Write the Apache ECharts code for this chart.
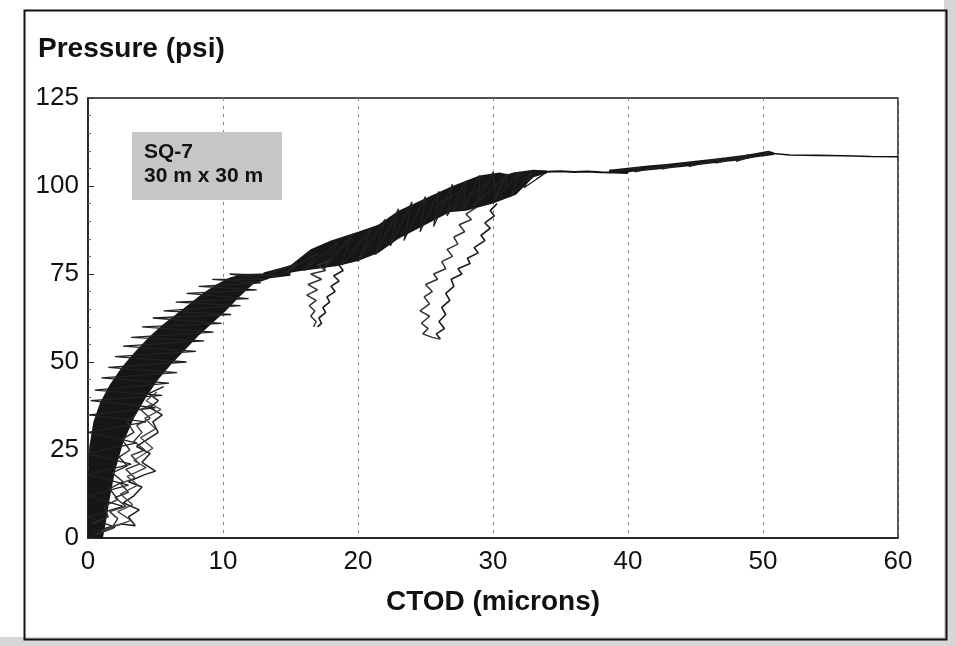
<!DOCTYPE html>
<html>
<head>
<meta charset="utf-8">
<script src="https://cdn.jsdelivr.net/npm/echarts@6/dist/echarts.min.js"></script>
<style>
html,body{margin:0;padding:0;background:#fff;}
#chart{width:956px;height:646px;}
</style>
</head>
<body>
<div id="chart"></div>
<script>
// ---- data (CTOD in microns, pressure in psi) ----
const xTickValues = [0, 10, 20, 30, 40, 50, 60];
const yTickValues = [0, 25, 50, 75, 100, 125];
const boxLines = ['SQ-7', '30 m x 30 m'];

// dense loading band 0-15 microns (outline: upper edge then lower edge back)
const mainBandUpper = [[0,0],[0,15],[0.1,26],[0.4,33],[0.9,38.5],[1.6,43.5],[2.5,48.5],[3.5,53],[4.5,57],[5.5,60.5],[6.5,63.5],[7.5,66.5],[8.5,69.5],[9.5,72],[10.5,74],[11.5,75],[13.5,75.2],[15,76]];
const mainBandLower = [[15,74.5],[13.5,73.8],[12.2,72],[11.2,68.5],[10.2,64.5],[9.2,61],[8.2,57.5],[7.2,53.5],[6.2,49.5],[5.2,45],[4.3,40],[3.4,34],[2.6,27],[2.0,19],[1.6,11],[1.3,4],[1.1,0]];
// band 13-31 microns
const band2Upper = [[13,75.4],[15,77.5],[16.5,82],[18,84.5],[20,87],[21.5,89],[23,93],[25,96.5],[27,100],[29,103],[30.5,103.8],[31.2,103.2]];
const band2Lower = [[31.2,100.5],[30,98],[29.2,96.5],[27,93],[25,89],[23,85],[21.5,81],[20,78.7],[18.5,77.3],[17,76.5],[15.5,75.7],[13,74]];
// second band 26-34 microns
const band3Upper = [[26,96],[28,99.5],[30,102],[31.5,103.8],[33,104.6],[34,104.4]];
const band3Lower = [[34,103.6],[33,102.5],[31.7,97.5],[30,95],[28,93],[26.5,92.5]];
// band 38.6-51 microns
const band4Upper = [[38.6,104.6],[41.5,105.8],[43,106.3],[45,107.2],[47,108],[49,109],[50.4,110],[50.8,109.6]];
const band4Lower = [[50.8,108.8],[49.5,108.2],[48,107.2],[46,106.3],[44,105.4],[42,104.6],[40,103.9],[38.6,103.6]];

// jagged traces (cyclic signal)
const mainTrace = [[0,0],[2.0,3],[0,6],[2.6,9],[0,12],[3.0,15],[0,18],[3.2,21],[0,24],[3.6,27],[0,30],[4.3,33],[0.1,35],[5.0,37],[0.2,39],[5.5,40.5],[0.5,42],[6.0,44],[1.0,45.5],[6.6,47],[1.5,48.5],[7.3,50],[2.0,51.5],[8.0,53],[2.6,54.5],[8.6,56],[3.2,57],[9.3,58.5],[4.0,60],[9.9,61],[4.8,62.5],[10.6,63.5],[5.6,64.5],[11.3,66],[6.5,67],[11.9,68],[7.3,69.5],[12.5,70.5],[8.2,71.5],[12.8,72.5],[9.2,73.5],[13.2,73.5],[10.5,75],[14,74.5]];
const band2Trace = [[13,74.5],[15.5,78],[14.5,75],[17,81],[16,76],[18.5,84],[17.5,76.5],[19.5,86],[18.8,77.5],[21,88],[20,78.5],[22,90.5],[21.3,80.5],[23,93.5],[22.4,83],[24,95.5],[23.4,84.5],[25,97],[24.6,87],[26,98.5],[25.6,88.5],[27,100.5],[26.6,91.5],[28,101.5],[27.8,93],[29,103],[29,95.5],[30,104],[30.2,97.5],[31,103.5],[31,100]];
const band3Trace = [[26,95],[28,99.5],[27,93],[29.5,101],[28.5,94],[31,103],[30,95.5],[32,104],[31.3,97],[33,104.5],[32.3,99.5],[34,104],[33.2,102]];
const band4Trace = [[39,104],[41,105.4],[40.5,104],[43,106],[42.5,104.8],[45,107],[44.5,105.5],[47,107.9],[46.5,106.5],[49,108.9],[48,107],[50.5,109.8],[50,108.5]];

// unloading / reloading loops near the origin
const loopsA = [[0.5,2],[2.5,4],[3.5,3.5],[3.0,6],[3.8,8],[2.6,10],[3.4,12],[4.0,14.5],[3.0,16],[4.2,18],[5.0,19],[4.0,21.5],[4.6,24],[3.6,26],[4.4,28],[5.2,30],[4.8,33],[5.5,35],[4.6,37],[5.2,39],[4.5,41],[5.6,43]];
const loopsB = [[0.6,1],[1.8,3],[2.2,5.5],[1.6,7.5],[2.8,9],[2.0,11.5],[3.0,13],[2.4,15.5],[3.5,17],[2.8,19.5],[3.8,21],[3.2,23.5],[4.2,25],[3.4,27.5],[4.0,30],[3.6,32],[4.6,34],[3.9,36.5],[4.8,38]];
const loopsC = [[0.3,4],[1.5,6],[1.2,9],[2.2,11],[1.6,14],[2.6,16],[1.8,18.5],[2.9,20.5],[2.3,23],[3.1,25],[2.5,28],[3.4,30],[2.9,33],[3.6,35.5]];
const loopsD = [[1.0,2],[3.2,5],[2.2,7.5],[3.3,9.5],[2.4,12.5],[3.7,15],[2.9,17.5],[4.3,20],[3.4,22],[4.8,25.5],[3.9,28.5],[5.0,31],[4.2,34],[5.4,36.5],[4.3,39],[5.1,41.5]];

// unloading branches
const branch1a = [[18.5,78],[18.9,76],[18.2,74.5],[18.6,73],[18,71.5],[18.3,70],[17.7,68.5],[17.9,67],[17.4,65.5],[17.6,64],[17.1,62.5],[17.3,61],[17,60]];
const branch1b = [[18,79],[17,77.5],[17.6,76],[16.5,75],[17.3,73.5],[16.3,72],[17,70.5],[16.2,69],[16.9,67.5],[16.4,66],[16.8,64.5],[16.5,63],[16.9,61.5],[16.7,60]];
const branch2a = [[30.3,95],[29.8,93],[30.1,91.5],[29.4,89.5],[29.8,88],[29.1,86],[29.4,84.5],[28.6,82.5],[28.9,81],[28.1,79.5],[28.3,78],[27.4,76.5],[27.7,75],[26.9,73.5],[27.1,71.5],[26.5,69.5],[26.8,67.5],[26.2,65.5],[26.5,63.5],[26,61.5],[26.4,59.5],[25.8,58],[26.1,56.5]];
const branch2b = [[28.8,94],[28,92],[28.4,90.5],[27.5,89],[27.9,87],[27.1,85.5],[27.4,83.5],[26.6,82],[27,80],[26.2,78.5],[26.5,76.5],[25.6,75],[25.9,73.5],[25,72],[25.5,70],[24.9,68.5],[25.3,66.5],[24.6,64.5],[25.3,63],[24.7,61],[25.2,59.5],[24.8,58],[25.5,57],[26.1,56.5]];

// thin flat parts
const flatMid = [[33.5,104],[35,104.2],[36,104],[37,104.1],[38,103.9],[39,103.8],[40,103.7]];
const flatTail = [[50.5,109.3],[52,108.8],[54,108.7],[56,108.6],[58,108.4],[60,108.3]];

// ---- chart ----
const INK = '#161616';
function polygonSeries(name, upper, lower, color) {
  const outline = upper.concat(lower);
  return {
    type: 'custom', name: name, coordinateSystem: 'cartesian2d', silent: true, z: 2,
    data: outline, encode: { x: 0, y: 1 },
    renderItem: function (params, api) {
      if (params.dataIndex !== 0) return null;
      const pts = outline.map(function (p) { return api.coord(p); });
      return { type: 'polygon', shape: { points: pts }, style: { fill: color } };
    }
  };
}
function traceSeries(name, data, color, width) {
  return { type: 'line', name: name, data: data, symbol: 'none', showSymbol: false,
    lineStyle: { color: color, width: width }, z: 3, silent: true };
}

const chart = echarts.init(document.getElementById('chart'), null, { renderer: 'canvas' });
chart.setOption({
  animation: false,
  backgroundColor: '#ffffff',
  textStyle: { fontFamily: 'Liberation Sans, Arial, sans-serif' },
  title: {
    text: 'Pressure (psi)', left: 33, top: 30,
    textStyle: { fontSize: 28, fontWeight: 'bold', color: '#111', fontFamily: 'Liberation Sans, Arial, sans-serif' }
  },
  grid: { left: 88, right: 58, top: 98, bottom: 108, show: true, borderColor: '#1a1a1a', borderWidth: 1.5 },
  xAxis: {
    type: 'value', min: xTickValues[0], max: xTickValues[xTickValues.length - 1], interval: 10,
    name: 'CTOD (microns)', nameLocation: 'middle', nameGap: 50,
    nameTextStyle: { fontSize: 28, fontWeight: 'bold', color: '#111' },
    axisLine: { show: true, lineStyle: { color: '#1a1a1a', width: 1.5 } },
    axisTick: { show: false },
    axisLabel: { fontSize: 26, color: '#111', margin: 11 },
    splitLine: { show: true, lineStyle: { color: '#8a8a8a', type: [3, 5], width: 1 } }
  },
  yAxis: {
    type: 'value', min: yTickValues[0], max: yTickValues[yTickValues.length - 1], interval: 25,
    axisLine: { show: true, lineStyle: { color: '#1a1a1a', width: 1.5 } },
    axisTick: { show: true, inside: true, length: 6, lineStyle: { color: '#333' } },
    minorTick: { show: true, splitNumber: 5, length: 3, lineStyle: { color: '#666' } },
    axisLabel: { fontSize: 26, color: '#111', margin: 9 },
    splitLine: { show: false }
  },
  graphic: [
    { type: 'rect', left: 944, top: 0, shape: { width: 12, height: 646 }, style: { fill: '#d6d6d6' }, silent: true, z: -10 },
    { type: 'rect', left: 0, top: 637, shape: { width: 956, height: 9 }, style: { fill: '#d6d6d6' }, silent: true, z: -10 },
    { type: 'rect', left: 22, top: 8, shape: { width: 922, height: 629 }, style: { fill: 'none', stroke: '#111', lineWidth: 2 }, silent: true, z: 10 },
    { type: 'rect', left: 132, top: 132, shape: { width: 150, height: 68 }, style: { fill: '#c6c6c6' }, silent: true, z: 5 },
    { type: 'text', left: 144, top: 140, style: { text: boxLines.join('\n'), font: 'bold 21px "Liberation Sans", Arial, sans-serif', fill: '#111', lineHeight: 24 }, silent: true, z: 6 }
  ],
  series: [
    polygonSeries('Loading band 1', mainBandUpper, mainBandLower, INK),
    polygonSeries('Loading band 2', band2Upper, band2Lower, INK),
    polygonSeries('Loading band 3', band3Upper, band3Lower, INK),
    polygonSeries('Loading band 4', band4Upper, band4Lower, INK),
    traceSeries('Trace 1', mainTrace, '#222', 1.3),
    traceSeries('Trace 2', band2Trace, '#222', 1.3),
    traceSeries('Trace 3', band3Trace, '#222', 1.3),
    traceSeries('Trace 4', band4Trace, '#222', 1.2),
    traceSeries('Loops A', loopsA, '#1e1e1e', 1.5),
    traceSeries('Loops B', loopsB, '#333', 1.4),
    traceSeries('Loops C', loopsC, '#2a2a2a', 1.4),
    traceSeries('Loops D', loopsD, '#444', 1.3),
    traceSeries('Unload 1a', branch1a, '#1a1a1a', 1.6),
    traceSeries('Unload 1b', branch1b, '#333', 1.5),
    traceSeries('Unload 2a', branch2a, '#1a1a1a', 1.6),
    traceSeries('Unload 2b', branch2b, '#333', 1.5),
    traceSeries('Flat mid', flatMid, '#111', 2),
    traceSeries('Flat tail', flatTail, '#111', 1.6)
  ]
});
</script>
</body>
</html>
